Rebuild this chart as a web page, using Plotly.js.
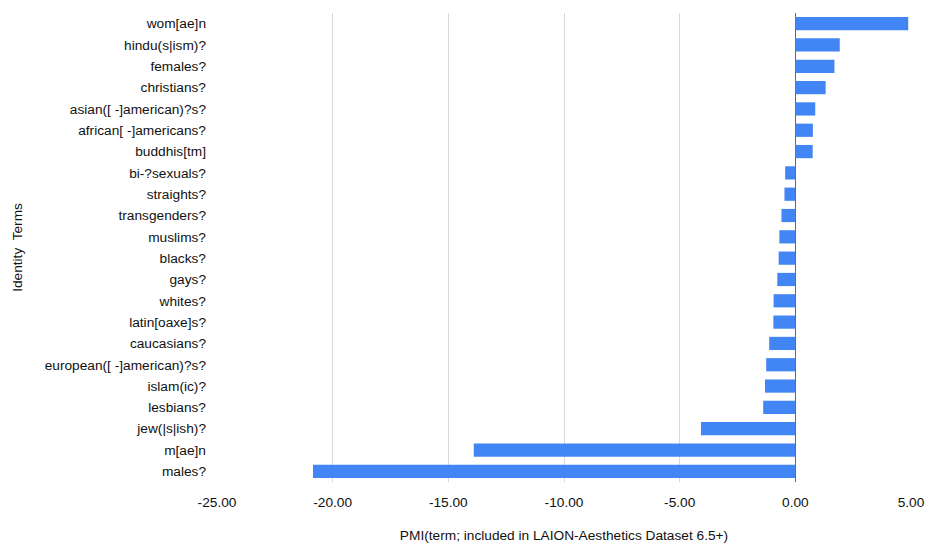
<!DOCTYPE html>
<html>
<head>
<meta charset="utf-8">
<script src="https://cdn.plot.ly/plotly-3.0.1.min.js"></script>
<style>html,body{margin:0;padding:0;background:#fff;}#chart{width:927px;height:548px;}</style>
</head>
<body>
<div id="chart"></div>
<script>
const terms = ["wom[ae]n","hindu(s|ism)?","females?","christians?","asian([ -]american)?s?","african[ -]americans?","buddhis[tm]","bi-?sexuals?","straights?","transgenders?","muslims?","blacks?","gays?","whites?","latin[oaxe]s?","caucasians?","european([ -]american)?s?","islam(ic)?","lesbians?","jew(|s|ish)?","m[ae]n","males?"];
const pmi = [4.88,1.92,1.69,1.31,0.86,0.76,0.75,-0.44,-0.47,-0.60,-0.69,-0.72,-0.78,-0.94,-0.95,-1.13,-1.26,-1.31,-1.39,-4.08,-13.9,-20.85];
const xTicks = [-25,-20,-15,-10,-5,0,5];
const xTickText = ["-25.00","-20.00","-15.00","-10.00","-5.00","0.00","5.00"];

const trace = {
  type: "bar",
  orientation: "h",
  y: terms,
  x: pmi,
  marker: {color: "#4285F4"},
  hoverinfo: "x+y"
};
const layout = {
  width: 927, height: 548,
  margin: {l: 217, r: 16, t: 13, b: 66},
  paper_bgcolor: "#fff", plot_bgcolor: "#fff",
  font: {family: "Liberation Sans, Arial, sans-serif", size: 13.7, color: "#111"},
  bargap: 0.38,
  showlegend: false,
  xaxis: {
    range: [-25, 5],
    tickmode: "array",
    tickvals: xTicks,
    ticktext: xTickText,
    showgrid: true, gridcolor: "#d9d9d9", gridwidth: 1,
    zeroline: true, zerolinecolor: "#666", zerolinewidth: 1.5,
    showline: false, ticks: "", ticklabelstandoff: 10,
    automargin: false,
    title: {text: "PMI(term; included in LAION-Aesthetics Dataset 6.5+)", standoff: 21, font: {size: 13.7, color: "#111"}}
  },
  yaxis: {
    autorange: "reversed",
    type: "category",
    showgrid: false, zeroline: false, showline: false,
    ticks: "", ticklabelstandoff: 10,
    automargin: false,
    title: {text: "Identity  Terms", standoff: 18, font: {size: 13.7, color: "#111"}}
  }
};
Plotly.newPlot("chart", [trace], layout, {displayModeBar: false, staticPlot: true});
</script>
</body>
</html>
